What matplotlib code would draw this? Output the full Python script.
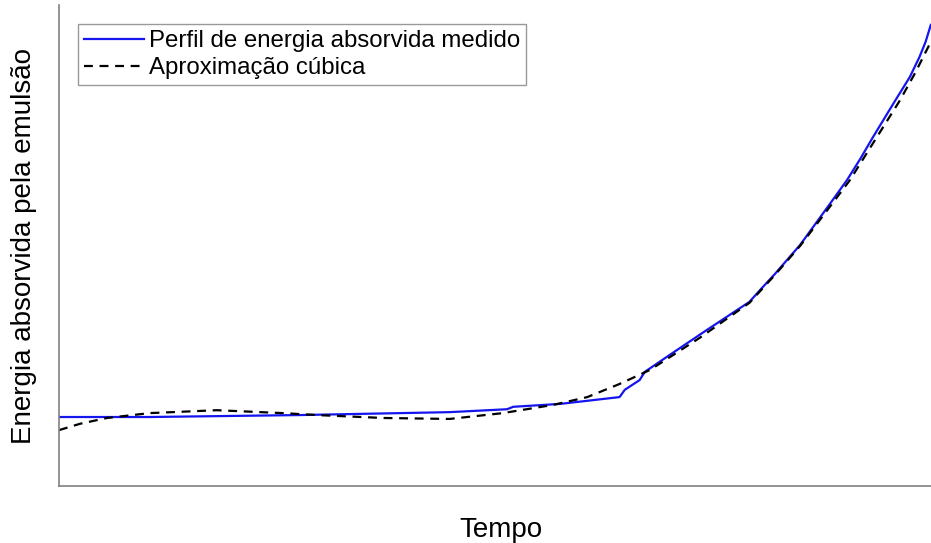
#!/usr/bin/env python3
# Perfil de energia absorvida vs. aproximação cúbica

import matplotlib
matplotlib.use("Agg")
import matplotlib.pyplot as plt

plt.rcParams['font.family'] = ['Liberation Sans', 'DejaVu Sans']

# tempo (unidades arbitrárias) e energia (unidades arbitrárias)
t_medido = [0, 10.4, 27.6, 44.8, 51.4, 52.1, 57.5, 64.3, 64.9, 66.6, 67.2,
            70.4, 74.3, 78.1, 79.2, 80.6, 82.1, 83.5, 85.0, 86.5, 88.4,
            90.4, 91.9, 93.3, 95.6, 97.6, 98.7, 99.4, 100]
e_medido = [14.2, 14.2, 14.6, 15.2, 15.8, 16.3, 16.9, 18.3, 19.8, 21.8,
            23.5, 27.4, 32.1, 36.6, 37.9, 40.7, 43.6, 46.5, 49.6, 53.3,
            58.0, 63.0, 67.3, 71.6, 78.4, 84.2, 88.3, 91.4, 94.9]

t_cubica = [0, 2.4, 5.5, 10.4, 18.1, 25.7, 29.6, 37.2, 44.8, 50.9, 56.7,
            60.6, 64.3, 67.8, 73.5, 79.2, 82.1, 85.0, 87.8, 90.7, 93.6,
            96.4, 98.2, 100]
e_cubica = [11.5, 12.8, 14.0, 15.0, 15.6, 15.0, 14.6, 14.0, 13.8, 15.0,
            16.7, 18.3, 21.0, 23.9, 30.5, 37.7, 43.4, 49.4, 56.0, 62.9,
            71.2, 79.2, 85.0, 91.4]

fig = plt.figure(figsize=(9.31, 5.43), dpi=100)
ax = fig.add_axes([59/931, 57/543, 884/931, 481/543])

ax.plot(t_medido, e_medido, color='#1515f0', lw=1.6,
        label='Perfil de energia absorvida medido')
ax.plot(t_cubica, e_cubica, color='black', lw=1.6, ls=(0, (4, 3)),
        label='Aproximação cúbica')

ax.set_xlim(0, 101.4)
ax.set_ylim(0, 99)
ax.set_xticks([])
ax.set_yticks([])
for s in ['top', 'right']:
    ax.spines[s].set_visible(False)
for s in ['left', 'bottom']:
    ax.spines[s].set_color('#808080')
    ax.spines[s].set_linewidth(1.2)

ax.set_xlabel('Tempo', fontsize=20, labelpad=22)
ax.set_ylabel('Energia absorvida pela emulsão', fontsize=20, labelpad=16)

leg = ax.legend(loc='upper left', bbox_to_anchor=(0.0215, 0.96), fontsize=17.3,
                frameon=True, fancybox=False, handlelength=2.5,
                handletextpad=0.2, borderpad=0.25, labelspacing=0.2,
                borderaxespad=0)
leg.get_frame().set_edgecolor('#808080')
leg.get_frame().set_linewidth(1.0)

fig.savefig('out.png', dpi=100)
